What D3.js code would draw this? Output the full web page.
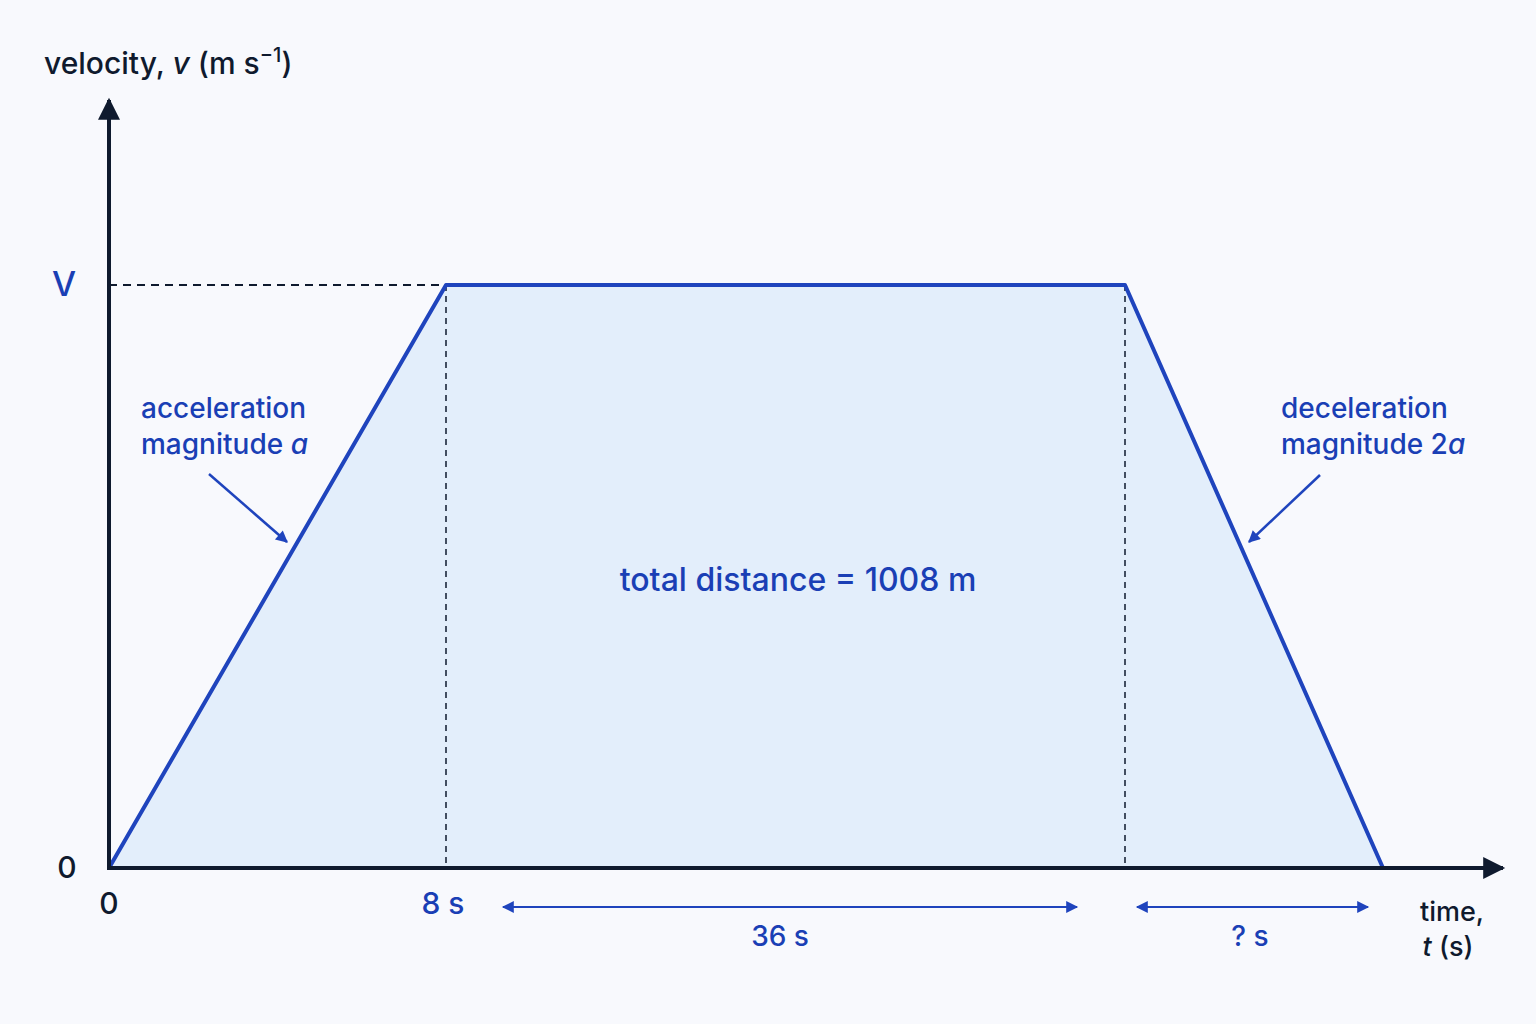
<!DOCTYPE html><html><head><meta charset="utf-8">
<script src="https://cdn.jsdelivr.net/npm/d3@7"></script>
<style>body{margin:0;background:#f8f9fd}text{font-family:Inter,"Noto Sans",sans-serif;font-weight:500}</style></head><body>
<svg id="c" width="1536" height="1024"></svg>
<script>
const times=[0,8,44,48];
const velocities=[0,24,24,0];
const tickLabels=["0","8 s"];
const spanLabels=["36 s","? s"];
const svg=d3.select("#c");
const blue="#1f44bd", dark="#0f1a2e", txt="#1a3fb5";
const x=d3.scaleLinear().domain(times).range([109,446,1125,1383]);
const y=d3.scaleLinear().domain([0,24]).range([868,285]);
const pts=times.map((t,i)=>[t,velocities[i]]);
const defs=svg.append("defs");
function mk(id,col,w,h){defs.append("marker").attr("id",id).attr("viewBox","0 0 10 10").attr("refX",9).attr("refY",5)
 .attr("markerWidth",w).attr("markerHeight",h).attr("markerUnits","userSpaceOnUse").attr("orient","auto-start-reverse")
 .append("path").attr("d","M0,0L10,5L0,10Z").attr("fill",col);}
mk("ab",blue,14,12);mk("ak",dark,26,22);
svg.append("path").datum(pts).attr("d",d3.area().x(d=>x(d[0])).y0(y(0)).y1(d=>y(d[1]))).attr("fill","#e3eefb");
svg.append("line").attr("x1",x(0)).attr("x2",x(8)).attr("y1",y(24)).attr("y2",y(24)).attr("stroke",dark).attr("stroke-width",2).attr("stroke-dasharray","8,6");
[8,44].forEach(t=>svg.append("line").attr("x1",x(t)).attr("x2",x(t)).attr("y1",y(24)).attr("y2",y(0)).attr("stroke",dark).attr("stroke-width",1.5).attr("stroke-dasharray","6,5"));
svg.append("path").datum(pts).attr("d",d3.line().x(d=>x(d[0])).y(d=>y(d[1]))).attr("fill","none").attr("stroke",blue).attr("stroke-width",4).attr("stroke-linejoin","round");
svg.append("line").attr("x1",x(0)).attr("y1",y(0)).attr("x2",x(0)).attr("y2",100).attr("stroke",dark).attr("stroke-width",4).attr("marker-end","url(#ak)");
svg.append("line").attr("x1",x(0)-2).attr("y1",y(0)).attr("x2",1503).attr("y2",y(0)).attr("stroke",dark).attr("stroke-width",4).attr("marker-end","url(#ak)");
function T(s,xx,yy,o={}){const t=svg.append("text").attr("x",xx).attr("y",yy).attr("font-size",o.fs||30).attr("fill",o.c||dark).attr("text-anchor",o.a||"start");t.text(s);return t;}
const yl=T("velocity, ",44,74);yl.append("tspan").attr("font-style","italic").text("v");yl.append("tspan").text(" (m s");
yl.append("tspan").attr("dy",-12).attr("font-size",20).text("−1");yl.append("tspan").attr("dy",12).text(")");
T("V",64,296,{c:txt,a:"middle",fs:34});
T("0",67,878,{a:"middle"});T(tickLabels[0],x(0),914,{a:"middle"});
T(tickLabels[1],x(8)-3,914,{c:txt,a:"middle"});
function span(a,b,yy,l,lx){svg.append("line").attr("x1",a).attr("x2",b).attr("y1",yy).attr("y2",yy).attr("stroke",blue).attr("stroke-width",2).attr("marker-start","url(#ab)").attr("marker-end","url(#ab)");T(l,lx,946,{c:txt,a:"middle",fs:28});}
span(x(8)+57,x(44)-48,907,spanLabels[0],780);
span(x(44)+12,x(48)-15,907,spanLabels[1],1250);
T("time,",1452,921,{a:"middle",fs:27});
const tl=T("",1448,956,{a:"middle",fs:27});tl.append("tspan").attr("font-style","italic").text("t");tl.append("tspan").text(" (s)");
T("acceleration",141,418,{c:txt,fs:28});
const m1=T("magnitude ",141,454,{c:txt,fs:28});m1.append("tspan").attr("font-style","italic").text("a");
T("deceleration",1281,418,{c:txt,fs:28});
const m2=T("magnitude 2",1281,454,{c:txt,fs:28});m2.append("tspan").attr("font-style","italic").text("a");
svg.append("line").attr("x1",209).attr("y1",474).attr("x2",287).attr("y2",542).attr("stroke",blue).attr("stroke-width",2.5).attr("marker-end","url(#ab)");
svg.append("line").attr("x1",1320).attr("y1",475).attr("x2",1249).attr("y2",542).attr("stroke",blue).attr("stroke-width",2.5).attr("marker-end","url(#ab)");
T("total distance = 1008 m",798,591,{c:txt,a:"middle",fs:32});
</script></body></html>
